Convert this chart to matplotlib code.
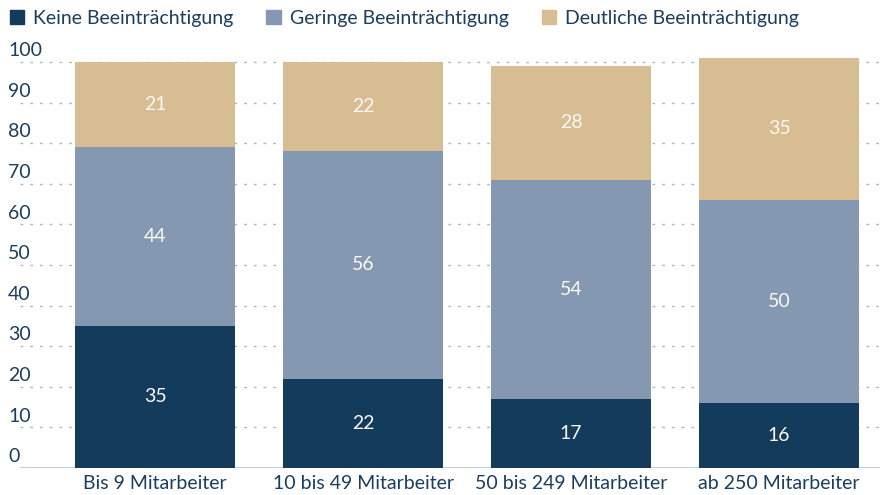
import matplotlib.pyplot as plt
from matplotlib.patches import Patch
import matplotlib.transforms as mtransforms

plt.rcParams['font.family'] = ['Lato', 'DejaVu Sans']

categories = ["Bis 9 Mitarbeiter", "10 bis 49 Mitarbeiter", "50 bis 249 Mitarbeiter", "ab 250 Mitarbeiter"]
keine = [35, 22, 17, 16]
geringe = [44, 56, 54, 50]
deutliche = [21, 22, 28, 35]
series_names = ["Keine Beeinträchtigung", "Geringe Beeinträchtigung", "Deutliche Beeinträchtigung"]
yticks = list(range(0, 101, 10))

colors = ["#133b5c", "#8499b1", "#d8bd92"]
text_col = "#1c3d5e"
grid_col = "#a9b9cb"

fig = plt.figure(figsize=(8.8, 4.95), dpi=100)
ax = fig.add_axes([20 / 880, 27 / 495, 1 - 20 / 880, (468 - 30) / 495])
ylim_top = (468 - 30) / 4.06
ax.set_ylim(0, ylim_top)

x = list(range(len(categories)))
width = 160 / 208
bottom = [0] * len(x)
for vals, col in zip([keine, geringe, deutliche], colors):
    ax.bar(x, vals, width, bottom=bottom, color=col, zorder=2)
    for xi, b, v in zip(x, bottom, vals):
        ax.text(xi, b + v / 2, str(v), ha="center", va="center",
                color="#fbf8f2", fontsize=14, zorder=3)
    bottom = [b + v for b, v in zip(bottom, vals)]

ax.set_xlim(-135 / 208, 3 + 101 / 208)

# dotted gridlines (0 is the solid baseline)
for t in yticks[1:]:
    ax.axhline(t, color=grid_col, linestyle=(0, (2, 5)), linewidth=1, zorder=1)
ax.axhline(0, color="#b7c4d2", linewidth=1.2, zorder=1)

# y labels sit just above their gridline, at the left figure edge
trans = mtransforms.blended_transform_factory(fig.transFigure, ax.transData)
for t in yticks:
    ax.text(8 / 880, t + 0.7, str(t), transform=trans, ha="left", va="bottom",
            color=text_col, fontsize=14, clip_on=False)

ax.set_yticks([])
ax.set_xticks(x)
ax.set_xticklabels(categories, fontsize=14, color=text_col)
ax.tick_params(axis="x", length=0, pad=5)
for s in ax.spines.values():
    s.set_visible(False)

handles = [Patch(color=c, label=n) for c, n in zip(colors, series_names)]
fig.legend(handles=handles, loc="upper left", bbox_to_anchor=(0.0, 1.0), ncol=3,
           frameon=False, fontsize=14, handlelength=0.75, handleheight=0.75,
           handletextpad=0.45, columnspacing=1.7, labelcolor=text_col,
           borderaxespad=0.2, borderpad=0.3)

fig.savefig("out.png", dpi=100)
